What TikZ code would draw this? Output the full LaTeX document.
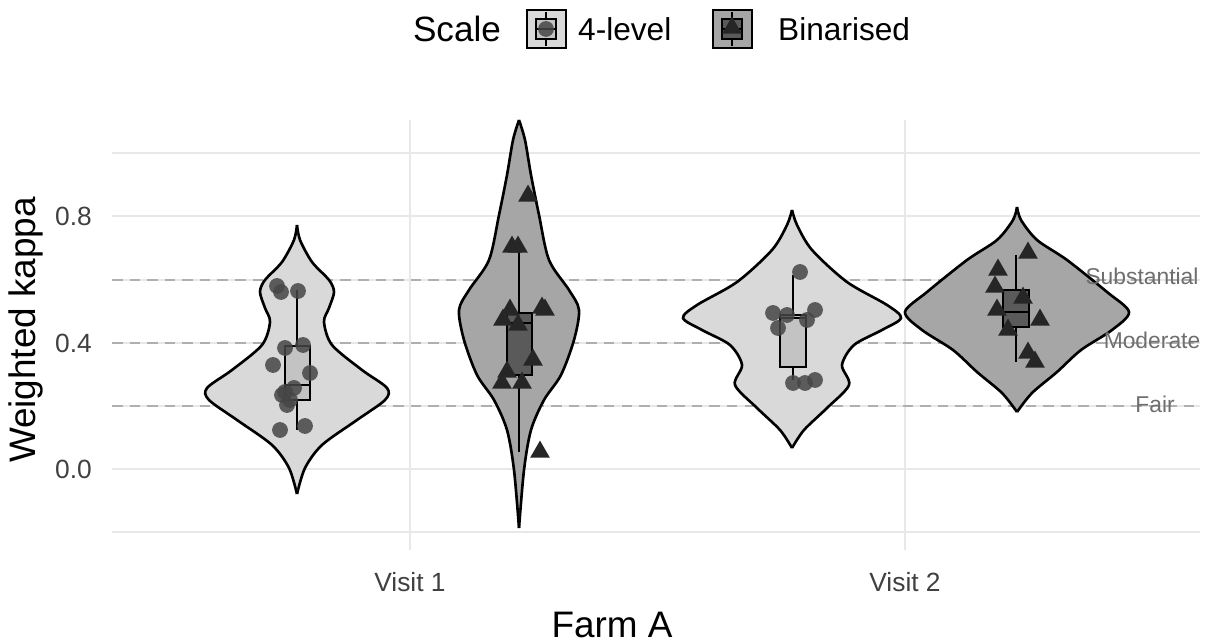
\documentclass[tikz,border=0pt]{standalone}
\usepackage{fontspec}
\setmainfont{Liberation Sans}
\usetikzlibrary{positioning, shapes.geometric}
\definecolor{violinlight}{RGB}{217,217,217}
\definecolor{violindark}{RGB}{166,166,166}
\definecolor{boxlight}{RGB}{195,195,195}
\definecolor{boxdark}{RGB}{90,90,90}
\definecolor{pointgray}{RGB}{70,70,70}
\definecolor{gridgray}{RGB}{232,232,232}
\definecolor{refgray}{RGB}{175,175,175}
\definecolor{labelgray}{RGB}{110,110,110}
\tikzset{
  majorgrid/.style={gridgray, line width=1.1pt},
  minorgrid/.style={gridgray, line width=0.6pt},
  refline/.style={refgray, dashed, dash pattern=on 6pt off 4pt, line width=0.9pt},
  outline/.style={black, line width=1.5pt},
  boxstyle/.style={draw=black, line width=1.6pt},
  dot/.style={circle, fill=pointgray, fill opacity=0.85, inner sep=0pt, minimum size=9pt},
  tri/.style={regular polygon, regular polygon sides=3, fill=black!85, inner sep=0pt, minimum size=13pt},
  tick/.style={font=\fontsize{15}{16}\selectfont, text=black!75},
  reflabel/.style={font=\fontsize{13}{14}\selectfont, text=labelgray}
}
% one violin: centre, fill colour, right-hand profile
\newcommand{\violin}[3]{%
  \begin{scope}[shift={(#1,0)}]
    \foreach \s in {1,-1} {
      \begin{scope}[xscale=\s]
        \fill[#2] plot[smooth] coordinates {#3} -- cycle;
        \draw[outline] plot[smooth] coordinates {#3};
      \end{scope}
    }
  \end{scope}}
\begin{document}
\begin{tikzpicture}[x=0.02cm, y=-0.02cm]
  \useasboundingbox (0,0) rectangle (1206,644);

  % grid
  \foreach \yy in {153,280,406,532} \draw[minorgrid] (112,\yy) -- (1200,\yy);
  \foreach \yy in {216,343,469} \draw[majorgrid] (112,\yy) -- (1200,\yy);
  \foreach \xx in {410,905} \draw[majorgrid] (\xx,120) -- (\xx,550);

  % reference lines
  \foreach \yy in {280,343,406} \draw[refline] (112,\yy) -- (1200,\yy);

  % violins
  \violin{297}{violinlight}{(0,225)(3,240)(15,262)(32,280)(37,292)(32,308)(27,322)(35,345)(65,370)(90,388)(88,400)(60,420)(25,445)(8,468)(0,494)}
  \violin{519}{violindark}{(0,120)(6,140)(12,175)(20,215)(30,260)(50,290)(60,310)(55,340)(42,375)(25,400)(12,430)(5,470)(0,528)}
  \violin{792}{violinlight}{(0,210)(5,225)(20,250)(55,282)(95,305)(109,318)(90,330)(62,345)(50,365)(57,385)(35,408)(12,430)(0,448)}
  \violin{1017}{violindark}{(0,207)(4,220)(20,240)(50,260)(90,292)(112,312)(95,330)(64,350)(40,372)(15,393)(0,412)}

  % boxplots
  \draw[outline] (297,290) -- (297,430);
  \draw[boxstyle, fill=boxlight] (285,346) rectangle (310,400);
  \draw[boxstyle] (285,385) -- (310,385);
  \draw[outline] (519,248) -- (519,452);
  \draw[boxstyle, fill=boxdark] (507,313) rectangle (532,375);
  \draw[boxstyle] (507,323) -- (532,323);
  \draw[outline] (793,275) -- (793,380);
  \draw[boxstyle, fill=boxlight] (780,315) rectangle (806,367);
  \draw[boxstyle] (780,318) -- (806,318);
  \draw[outline] (1016,255) -- (1016,362);
  \draw[boxstyle, fill=boxdark] (1003,290) rectangle (1029,327);
  \draw[boxstyle] (1003,312) -- (1029,312);

  % points
  \foreach \px/\py in {277/286,281/292,298/291,285/348,303/345,273/365,310/373,285/392,290/400,282/395,287/405,280/430,305/426,294/388,
                       800/272,773/313,787/315,815/310,807/320,778/328,793/383,805/383,815/380}
    \node[dot] at (\px,\py) {};
  \foreach \px/\py in {528/196,512/247,518/247,510/310,503/320,545/310,542/308,518/325,533/360,507/372,502/383,522/383,540/452,
                       1028/253,998/270,995/287,1023/298,997/310,1040/320,1008/330,1028/353,1035/362}
    \node[tri] at (\px,\py) {};

  % reference labels
  \node[reflabel] (subst) at (1142,276) {Substantial};
  \node[reflabel] (moder) at (1152,340) {Moderate};
  \node[reflabel] (fair) at (1155,404) {Fair};

  % axes
  \node[tick, anchor=east] (t08) at (98,216) {0.8};
  \node[tick, anchor=east] (t04) at (98,343) {0.4};
  \node[tick, anchor=east] (t00) at (98,469) {0.0};
  \node[tick] (v1) at (410,582) {Visit 1};
  \node[tick] (v2) at (905,582) {Visit 2};
  \node[font=\fontsize{21}{22}\selectfont] (xlab) at (612,625) {Farm A};
  \node[font=\fontsize{21}{22}\selectfont, rotate=90] (ylab) at (26,330) {Weighted kappa};

  % legend
  \node[font=\fontsize{20}{22}\selectfont] (scale) at (457,29) {Scale};
  \draw[line width=1.2pt, fill=violinlight] (527,10) rectangle (566,48);
  \draw[line width=1pt] (546,12) -- (546,46);
  \draw[line width=1pt, fill=boxlight] (536,19) rectangle (556,39);
  \draw[line width=1pt] (536,29) -- (556,29);
  \node[dot] (k1) at (546,29) {};
  \node[font=\fontsize{18}{20}\selectfont, anchor=west] (lev4) at (572,29) {4-level};
  \draw[line width=1.2pt, fill=violindark] (713,10) rectangle (752,48);
  \draw[line width=1pt] (732,12) -- (732,46);
  \draw[line width=1pt, fill=boxdark] (722,19) rectangle (742,39);
  \draw[line width=1pt] (722,29) -- (742,29);
  \node[tri] (k2) at (732,28) {};
  \node[font=\fontsize{18}{20}\selectfont, anchor=west] (bin) at (772,29) {Binarised};
\end{tikzpicture}
\end{document}
